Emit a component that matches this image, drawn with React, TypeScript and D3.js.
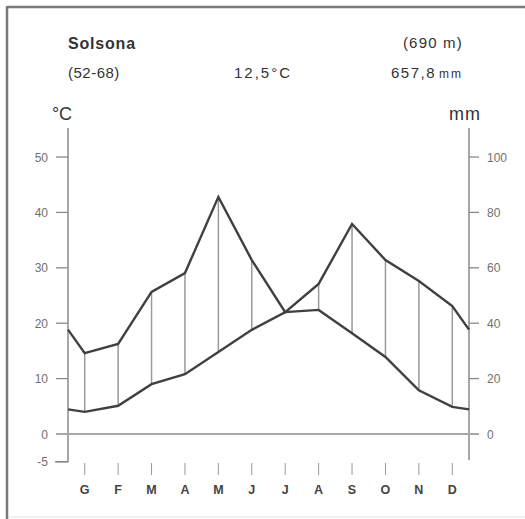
import React from "react";
import * as d3 from "d3";

const months = ["G", "F", "M", "A", "M", "J", "J", "A", "S", "O", "N", "D"];
const temperature = [4.0, 5.1, 9.0, 10.8, 14.8, 18.8, 22.0, 22.4, 18.2, 13.9, 7.9, 4.9];
const precipitation = [29.2, 32.5, 51.3, 58.1, 85.6, 62.8, 44.0, 54.2, 75.8, 62.8, 55.2, 46.2];
const tempTicks = [-5, 0, 10, 20, 30, 40, 50];
const precTicks = [0, 20, 40, 60, 80, 100];
const station = "Solsona";
const altitude = "(690 m)";
const period = "(52-68)";
const meanTemp = "12,5°C";
const totalPrec = "657,8";

export default function App() {
  const W = 525, H = 519;
  const left = 68, right = 469;
  const x = d3.scaleLinear().domain([0, 12]).range([left, right]);
  const yT = d3.scaleLinear().domain([0, 50]).range([434, 157]);
  const yP = d3.scaleLinear().domain([0, 100]).range([434, 157]);

  const tEdge = (temperature[11] + temperature[0]) / 2;
  const pEdge = (precipitation[11] + precipitation[0]) / 2;
  const tPts: [number, number][] = [[0, tEdge], ...temperature.map((v, i) => [i + 0.5, v] as [number, number]), [12, tEdge]];
  const pPts: [number, number][] = [[0, pEdge], ...precipitation.map((v, i) => [i + 0.5, v] as [number, number]), [12, pEdge]];
  const lineT = d3.line<[number, number]>().x(d => x(d[0])).y(d => yT(d[1]));
  const lineP = d3.line<[number, number]>().x(d => x(d[0])).y(d => yP(d[1]));

  const font = "'Liberation Sans', Arial, sans-serif";
  const axisCol = "#8a8a8a";

  return (
    <svg width={W} height={H} style={{ position: "fixed", left: 0, top: 0, background: "#fff" }} fontFamily={font}>
      <rect x={0} y={0} width={W} height={H} fill="#fff" />
      {/* frame */}
      <line x1={7} y1={7} x2={W} y2={7} stroke="#7a7a7a" strokeWidth={2.5} />
      <line x1={7} y1={6} x2={7} y2={H} stroke="#7a7a7a" strokeWidth={2.5} />
      <line x1={8} y1={517} x2={W} y2={517} stroke="#e2e2e2" strokeWidth={1} />

      {/* header */}
      <text x={68} y={49} fontSize={16} fontWeight="bold" fill="#333" letterSpacing={0.8}>{station}</text>
      <text x={463} y={48} fontSize={15} fill="#333" textAnchor="end" letterSpacing={1.2}>{altitude}</text>
      <text x={68} y={78} fontSize={15} fill="#333" letterSpacing={0.5}>{period}</text>
      <text x={263} y={78} fontSize={15} fill="#333" textAnchor="middle" letterSpacing={2}>{meanTemp}</text>
      <text x={463} y={78} fontSize={15} fill="#333" textAnchor="end" letterSpacing={1.5}>{totalPrec}<tspan fontSize={12} dx={3} letterSpacing={2}>mm</tspan></text>
      <text x={62} y={120} fontSize={18} fill="#333" textAnchor="middle">°C</text>
      <text x={465} y={120} fontSize={18} fill="#333" textAnchor="middle" letterSpacing={1}>mm</text>

      {/* left axis */}
      <path d={`M${left},128 V${yT(-5)} H55`} fill="none" stroke={axisCol} strokeWidth={1.5} />
      {tempTicks.map(t => (
        <g key={"t" + t}>
          <line x1={56} x2={left} y1={yT(t)} y2={yT(t)} stroke={axisCol} strokeWidth={1.3} />
          <text x={48} y={yT(t) + 4.5} fontSize={12} fill="#707070" textAnchor="end">{t}</text>
        </g>
      ))}
      {/* right axis */}
      <line x1={right} x2={right} y1={128} y2={460} stroke={axisCol} strokeWidth={1.5} />
      {precTicks.map(p => (
        <g key={"p" + p}>
          <line x1={right} x2={479} y1={yP(p)} y2={yP(p)} stroke={axisCol} strokeWidth={1.3} />
          <text x={487} y={yP(p) + 4.5} fontSize={12} fill="#707070">{p}</text>
        </g>
      ))}
      {/* zero line */}
      <line x1={56} x2={479} y1={yT(0)} y2={yT(0)} stroke="#a8a8a8" strokeWidth={2.2} />

      {/* hatching */}
      {months.map((m, i) => {
        const t = temperature[i], p = precipitation[i] / 2;
        if (p - t < 0.5) return null;
        return <line key={"h" + i} x1={x(i + 0.5)} x2={x(i + 0.5)} y1={yT(t)} y2={yP(precipitation[i])} stroke="#9a9a9a" strokeWidth={1.5} />;
      })}

      {/* curves */}
      <path d={lineP(pPts) || ""} fill="none" stroke="#404040" strokeWidth={2.4} />
      <path d={lineT(tPts) || ""} fill="none" stroke="#404040" strokeWidth={2.4} />

      {/* month ticks and labels */}
      {months.map((m, i) => (
        <g key={"m" + i}>
          <line x1={x(i + 0.5)} x2={x(i + 0.5)} y1={463} y2={475} stroke="#999" strokeWidth={1} />
          <text x={x(i + 0.5)} y={494} fontSize={12.5} fontWeight="bold" fill="#444" textAnchor="middle">{m}</text>
        </g>
      ))}
    </svg>
  );
}
